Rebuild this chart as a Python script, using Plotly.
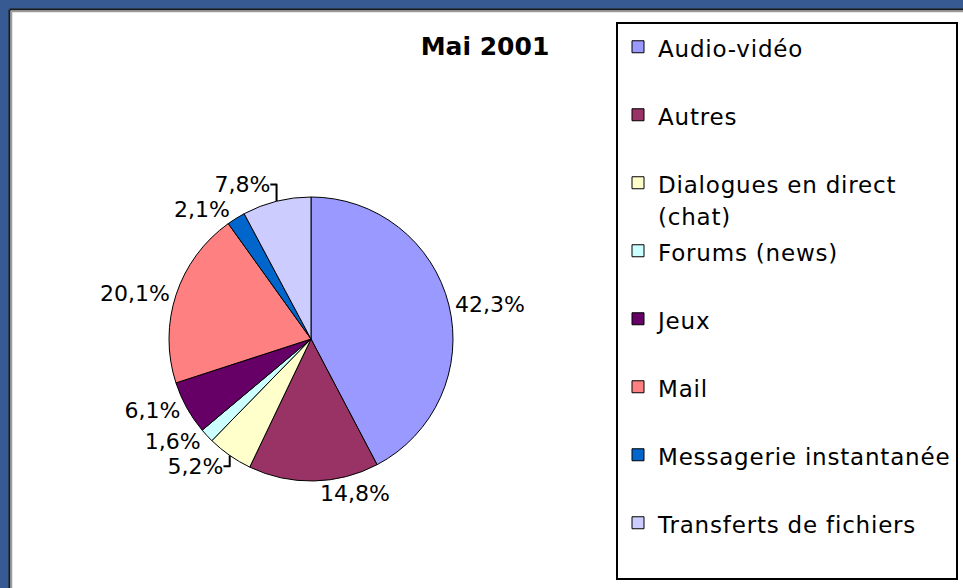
import plotly.graph_objects as go

categories = [
    "Audio-vidéo",
    "Autres",
    "Dialogues en direct<br>(chat)",
    "Forums (news)",
    "Jeux",
    "Mail",
    "Messagerie instantanée",
    "Transferts de fichiers",
]
values = [42.3, 14.8, 5.2, 1.6, 6.1, 20.1, 2.1, 7.8]
value_labels = ["42,3%", "14,8%", "5,2%", "1,6%", "6,1%", "20,1%", "2,1%", "7,8%"]
colors = ["#9999FF", "#993366", "#FFFFCC", "#CCFFFF", "#660066", "#FF8080", "#0066CC", "#CCCCFF"]
title_text = "Mai 2001"

W, H = 963, 588
SPAN = '<span style="font-size:23px;letter-spacing:0.8px">{}</span>'


def legend_label(c):
    lines = c.split("<br>")
    if len(lines) == 1:
        lines.append("\u00a0")
    return "<br>".join(SPAN.format(l) for l in lines)


legend_labels = [legend_label(c) for c in categories]

fig = go.Figure()
fig.add_trace(go.Pie(
    labels=legend_labels,
    values=values,
    text=value_labels,
    textinfo="text",
    textposition="outside",
    sort=False,
    direction="clockwise",
    rotation=0,
    marker=dict(colors=colors, line=dict(color="black", width=1)),
    outsidetextfont=dict(family="DejaVu Sans", size=22, color="black"),
    domain=dict(x=[(311 - 142) / W, (311 + 142) / W], y=[(249 - 142) / H, (249 + 142) / H]),
    hoverinfo="percent",
))

fig.update_layout(
    width=W, height=H,
    margin=dict(l=0, r=0, t=0, b=0),
    paper_bgcolor="white",
    plot_bgcolor="white",
    font=dict(family="DejaVu Sans", color="black"),
    title=dict(text="<b>" + title_text + "</b>", x=485 / W, y=1 - 46 / H,
               xanchor="center", yanchor="middle",
               font=dict(family="DejaVu Sans", size=25, color="black")),
    showlegend=True,
    legend=dict(
        x=616 / W, y=1 - 22 / H, xanchor="left", yanchor="top",
        bordercolor="black", borderwidth=2, bgcolor="white",
        font=dict(family="DejaVu Sans", size=25.0, color="black"),
        valign="top",
        itemwidth=30,
    ),
    shapes=[
        dict(type="rect", xref="paper", yref="paper", x0=0, x1=1, y0=1 - 9 / H, y1=1,
             fillcolor="#375A93", line=dict(width=0), layer="above"),
        dict(type="rect", xref="paper", yref="paper", x0=0, x1=9 / W, y0=0, y1=1,
             fillcolor="#375A93", line=dict(width=0), layer="above"),
        dict(type="line", xref="paper", yref="paper", x0=9.5 / W, x1=1, y0=1 - 9.5 / H, y1=1 - 9.5 / H,
             line=dict(color="#1a1a1a", width=2), layer="above"),
        dict(type="line", xref="paper", yref="paper", x0=9.5 / W, x1=9.5 / W, y0=0, y1=1 - 9.5 / H,
             line=dict(color="#1a1a1a", width=2), layer="above"),
        dict(type="line", xref="paper", yref="paper", x0=11.5 / W, x1=1, y0=1 - 11.5 / H, y1=1 - 11.5 / H,
             line=dict(color="#9a9a9a", width=1.5), layer="above"),
        dict(type="line", xref="paper", yref="paper", x0=11.5 / W, x1=11.5 / W, y0=0, y1=1 - 11.5 / H,
             line=dict(color="#9a9a9a", width=1.5), layer="above"),
    ],
)

fig.write_html("out.html", config={"displayModeBar": False},
               post_script="document.body.style.margin='0';")
